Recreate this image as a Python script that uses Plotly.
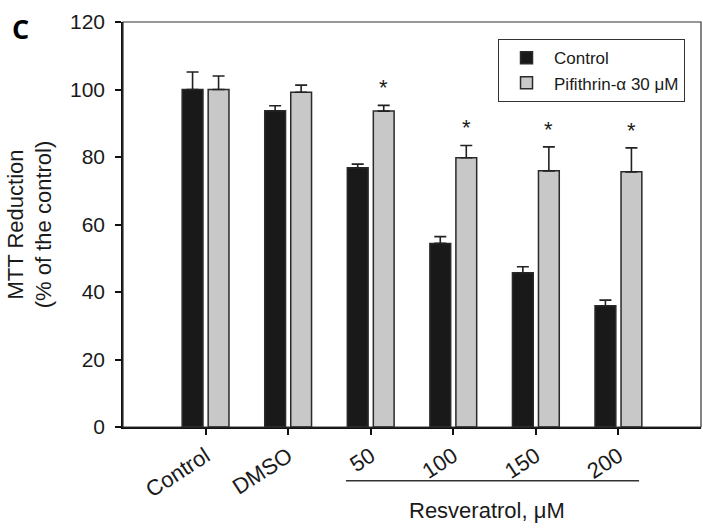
import plotly.graph_objects as go

categories = ["Control", "DMSO", "50", "100", "150", "200"]
control_vals = [100.0, 93.7, 76.8, 54.4, 45.7, 35.9]
control_err = [5.2, 1.5, 1.1, 2.0, 1.8, 1.7]
pif_vals = [100.0, 99.2, 93.6, 79.8, 75.9, 75.6]
pif_err = [4.0, 2.1, 1.7, 3.6, 7.1, 7.1]
significant = [False, False, True, True, True, True]
y_ticks = [0, 20, 40, 60, 80, 100, 120]

FONT = "Liberation Sans, Arial, sans-serif"
INK = "#1a1a1a"

fig = go.Figure()
fig.add_trace(go.Bar(
    name="Control", x=categories, y=control_vals,
    marker=dict(color="#191919", line=dict(color="#2a2a2a", width=1.5)),
    error_y=dict(type="data", symmetric=False, array=control_err,
                 arrayminus=[0] * len(control_err), color="#222222",
                 thickness=1.6, width=6),
))
fig.add_trace(go.Bar(
    name="Pifithrin-\u03b1 30 \u03bcM", x=categories, y=pif_vals,
    marker=dict(color="#c8c8c8", line=dict(color="#2a2a2a", width=1.5)),
    error_y=dict(type="data", symmetric=False, array=pif_err,
                 arrayminus=[0] * len(pif_err), color="#222222",
                 thickness=1.6, width=6),
))

# significance stars above the Pifithrin bars (x given as category index)
for i, (v, e, s) in enumerate(zip(pif_vals, pif_err, significant)):
    if s:
        fig.add_annotation(x=i, y=v + e + 5.2, xref="x", yref="y",
                           text="*", showarrow=False, xshift=13,
                           font=dict(family=FONT, size=22, color=INK),
                           yanchor="middle")

# Resveratrol bracket line and label
fig.add_shape(type="line", xref="x", yref="paper",
              x0=1.7, x1=5.25, y0=-0.133, y1=-0.133,
              line=dict(color="#333333", width=1.5))
fig.add_annotation(x=3.41, y=-0.205, xref="x", yref="paper",
                   text="Resveratrol, \u03bcM", showarrow=False,
                   font=dict(family=FONT, size=22, color=INK),
                   xanchor="center", yanchor="middle")

# panel letter
fig.add_annotation(x=-0.1955, y=0.983, xref="paper", yref="paper", text="<b>C</b>",
                   showarrow=False, xanchor="left", yanchor="middle",
                   font=dict(family="Open Sans, Liberation Sans, sans-serif", size=27, color="#000000"))

# thin frame box (top/right)
fig.add_shape(type="rect", xref="paper", yref="paper", x0=0, x1=1, y0=0, y1=1,
              line=dict(color="#333333", width=1.2), layer="above")

fig.update_layout(
    width=703, height=529,
    margin=dict(l=123, r=2, t=22, b=102),
    paper_bgcolor="white", plot_bgcolor="white",
    barmode="group", bargap=0.37, bargroupgap=0.2,
    font=dict(family=FONT, size=20, color=INK),
    legend=dict(x=0.972, y=0.958, xanchor="right", yanchor="top",
                bordercolor="#333333", borderwidth=1.2, bgcolor="white",
                font=dict(family=FONT, size=17, color=INK),
                itemwidth=45, tracegroupgap=0),
    showlegend=True,
)
fig.update_xaxes(
    type="category", range=[-1, 6], showline=True, linecolor="#111111",
    linewidth=1.6, ticks="outside", ticklen=6, tickwidth=1.5,
    tickcolor="#111111", tickangle=-33, showgrid=False, zeroline=False,
    tickfont=dict(family=FONT, size=22, color=INK),
)
fig.update_yaxes(
    range=[0, 120], tickvals=y_ticks, showline=True, linecolor="#111111",
    linewidth=1.6, ticks="outside", ticklen=6, tickwidth=1.5,
    tickcolor="#111111", showgrid=False, zeroline=False,
    ticklabelstandoff=6,
    tickfont=dict(family=FONT, size=21, color=INK),
    title=dict(text="MTT Reduction<br>(% of the control)", standoff=12,
               font=dict(family=FONT, size=22, color=INK)),
)

fig.write_html("out.html", config={"displayModeBar": False},
               post_script="document.body.style.margin='0';document.body.style.overflow='hidden';")
